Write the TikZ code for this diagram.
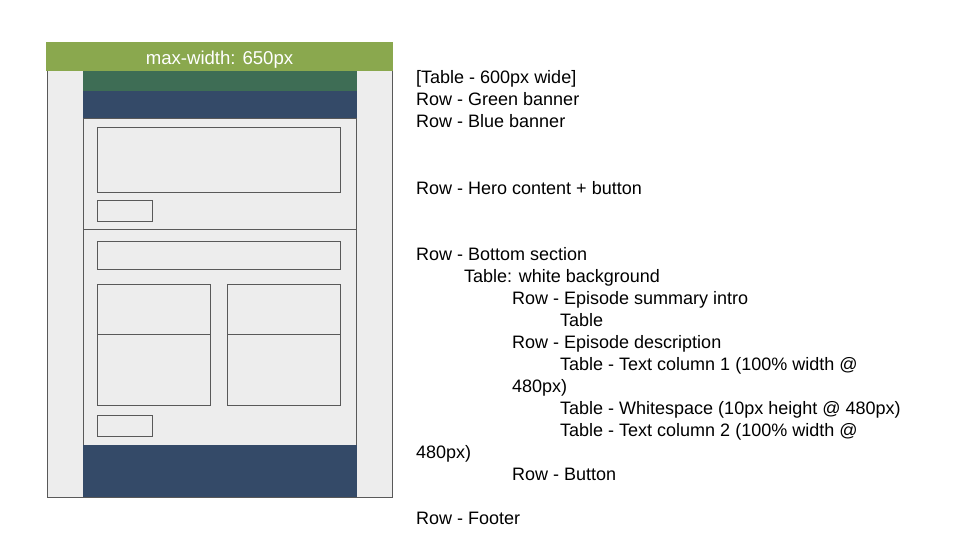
\documentclass[tikz,border=0pt]{standalone}
\usepackage{fontspec}
\setmainfont{Liberation Sans}
\definecolor{pagegray}{HTML}{EDEDED}
\definecolor{edgegray}{HTML}{595959}
\definecolor{headgreen}{HTML}{8AA84E}
\definecolor{bandgreen}{HTML}{3E6D55}
\definecolor{bandblue}{HTML}{344A68}
\tikzset{
  box/.style={draw=edgegray, fill=pagegray, line width=1pt},
  note/.style={anchor=base west, inner sep=0pt, font=\fontsize{18}{22}\selectfont, text=black},
}
\begin{document}
\begin{tikzpicture}[x=1pt, y=-1pt]
\useasboundingbox (0,0) rectangle (960,540);
% outer 650px wrapper and its heading
\draw[box] (47.3,70) rectangle (392.3,497.3);
\fill[headgreen] (46,42) rectangle (392.7,70.7);
\node[anchor=base, inner sep=0pt, text=white, font=\fontsize{18.6}{22}\selectfont] (maxw) at (219.5,64.3) {max-width: 650px};
% 600px table: hero and bottom sections
\draw[box] (83.3,118.3) rectangle (356.7,229.3);
\draw[box] (83.3,229.3) rectangle (356.7,445);
% banners and footer
\fill[bandgreen] (83.3,70.7) rectangle (356.7,90.7);
\fill[bandblue] (83.3,90.7) rectangle (356.7,118.3);
\fill[bandblue] (83.3,445) rectangle (356.7,497.3);
% hero content and button
\draw[box] (97.3,127.3) rectangle (340.7,192.3);
\draw[box] (97.3,200.3) rectangle (152.7,221.3);
% episode summary, two text columns, button
\draw[box] (97.3,241.3) rectangle (340.7,269.3);
\draw[box] (97.3,284.3) rectangle (210.7,405.3);
\draw[edgegray, line width=1pt] (97.3,334.3) -- (210.7,334.3);
\draw[box] (227.3,284.3) rectangle (340.7,405.3);
\draw[edgegray, line width=1pt] (227.3,334.3) -- (340.7,334.3);
\draw[box] (97.3,415.3) rectangle (152.7,436.3);
% structure notes
\node[note] (t1) at (416,84) {[Table - 600px wide]};
\node[note] (t2) at (416,106) {Row - Green banner};
\node[note] (t3) at (416,128) {Row - Blue banner};
\node[note] (t4) at (416,194) {Row - Hero content + button};
\node[note] (t5) at (416,260) {Row - Bottom section};
\node[note] (t6) at (464,282) {Table: white background};
\node[note] (t7) at (512,304) {Row - Episode summary intro};
\node[note] (t8) at (560,326) {Table};
\node[note] (t9) at (512,348) {Row - Episode description};
\node[note] (t10) at (560,370) {Table - Text column 1 (100\% width @};
\node[note] (t11) at (512,392) {480px)};
\node[note] (t12) at (560,414) {Table - Whitespace (10px height @ 480px)};
\node[note] (t13) at (560,436) {Table - Text column 2 (100\% width @};
\node[note] (t14) at (416,458) {480px)};
\node[note] (t15) at (512,480) {Row - Button};
\node[note] (t16) at (416,524) {Row - Footer};
\end{tikzpicture}
\end{document}
